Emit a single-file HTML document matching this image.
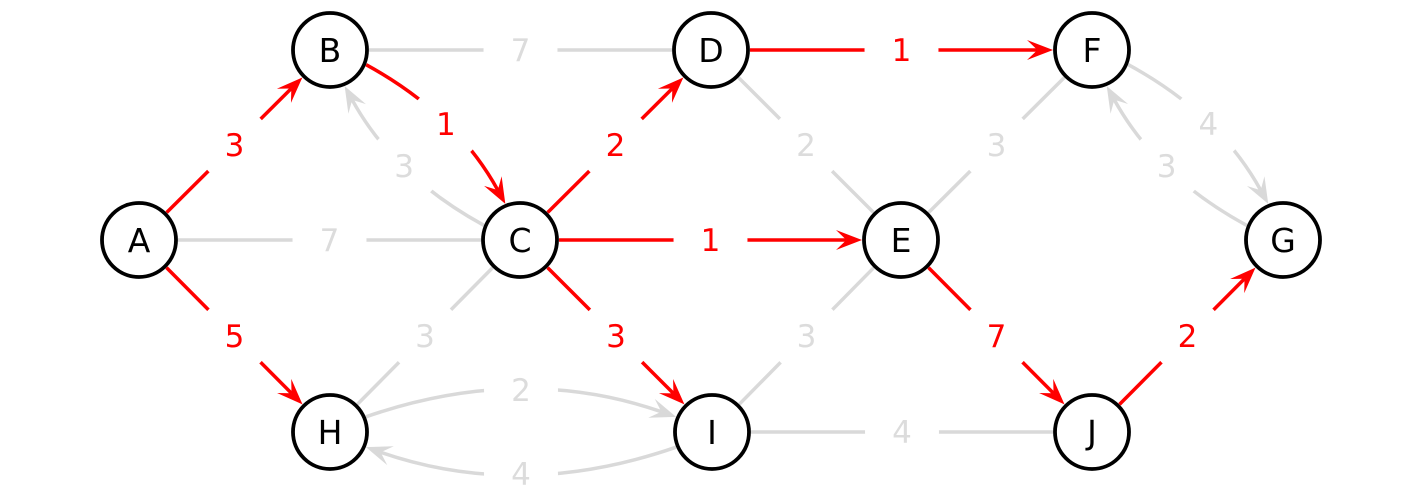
<!DOCTYPE html>
<html><head><meta charset="utf-8"><style>
html,body{margin:0;padding:0;background:#fff;overflow:hidden;}
svg{display:block;}
text{font-family:"DejaVu Sans","Liberation Sans",sans-serif;}
</style></head><body>
<svg id="s" width="1417" height="501" viewBox="0 0 1417 501" xmlns="http://www.w3.org/2000/svg"></svg>
<script>
const N={A:[139,240],B:[330,50],C:[520,240],D:[711,50],E:[901,240],F:[1092,50],G:[1283,240],H:[330,432],I:[712,432],J:[1092,432]};
const R=39, RED="#ff0000", GR="#d9d9d9";
const E=[
["A","B","3",1,1,0],["A","H","5",1,1,0],["B","C","1",1,1,1],["C","B","3",0,1,1],
["B","D","7",0,0,0],["A","C","7",0,0,0],["C","D","2",1,1,0],["C","E","1",1,1,0],
["C","I","3",1,1,0],["C","H","3",0,0,0],["D","F","1",1,1,0],["D","E","2",0,0,0],
["E","F","3",0,0,0],["E","I","3",0,0,0],["E","J","7",1,1,0],["J","G","2",1,1,0],
["F","G","4",0,1,1],["G","F","3",0,1,1],["H","I","2",0,1,1],["I","H","4",0,1,1],["I","J","4",0,0,0]];
let out="";
for(const e of E){
 const a=N[e[0]],b=N[e[1]],col=e[3]?RED:GR;
 const dx=b[0]-a[0],dy=b[1]-a[1],L=Math.hypot(dx,dy);
 const ux=dx/L,uy=dy/L,lx=uy,ly=-ux;
 const ang=e[5]?0.40:0;
 const ca=Math.cos(ang),sa=Math.sin(ang);
 const sd=[ux*ca+lx*sa,uy*ca+ly*sa];
 const ed=[-ux*ca+lx*sa,-uy*ca+ly*sa];
 const p0=[a[0]+sd[0]*R,a[1]+sd[1]*R];
 const p1=[b[0]+ed[0]*R,b[1]+ed[1]*R];
 const off=e[5]?L*0.11:0;
 const m=[(a[0]+b[0])/2+lx*off,(a[1]+b[1])/2+ly*off];
 const c=[2*m[0]-(p0[0]+p1[0])/2,2*m[1]-(p0[1]+p1[1])/2];
 let pend=p1;
 if(e[4]){
   const tdx=p1[0]-c[0],tdy=p1[1]-c[1],tl=Math.hypot(tdx,tdy);
   const tx=tdx/tl,ty=tdy/tl,nx=-ty,ny=tx;
   const len=26,w=10;
   const tip=p1,back=[p1[0]-tx*len,p1[1]-ty*len],notch=[p1[0]-tx*len*0.6,p1[1]-ty*len*0.6];
   out+=`<polygon points="${tip[0]},${tip[1]} ${back[0]+nx*w},${back[1]+ny*w} ${notch[0]},${notch[1]} ${back[0]-nx*w},${back[1]-ny*w}" fill="${col}"/>`;
   pend=notch;
 }
 out+=`<path d="M${p0[0]},${p0[1]} Q${c[0]},${c[1]} ${pend[0]},${pend[1]}" stroke="${col}" stroke-width="3.5" fill="none"/>`;
 out+=`<circle cx="${m[0]}" cy="${m[1]}" r="37" fill="#fff"/>`;
 out+=`<text x="${m[0]}" y="${m[1]+11}" font-size="31" text-anchor="middle" fill="${e[3]?RED:'#dcdcdc'}">${e[2]}</text>`;
}
for(const k in N){const p=N[k];
 out+=`<circle cx="${p[0]}" cy="${p[1]}" r="37" fill="#fff" stroke="#000" stroke-width="3.8"/>`;
 out+=`<text x="${p[0]}" y="${p[1]+12}" font-size="33" text-anchor="middle" fill="#000">${k}</text>`;}
document.getElementById("s").innerHTML=out;
</script>
</body></html>
